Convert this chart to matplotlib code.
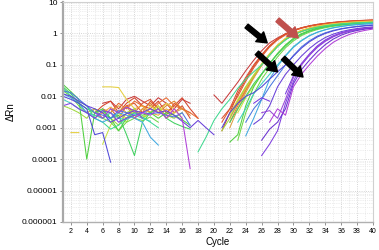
import numpy as np
import matplotlib
matplotlib.use("Agg")
import matplotlib.pyplot as plt
from matplotlib.ticker import FixedLocator, NullFormatter

n = None
cycles = list(range(1, 41))

# delta Rn per well, cycles 1..40 (None = not drawn, value <= 0)
well_01 = [n, n, n, n, n, .006, .007, .004, .008, .01, .007, .005, .009, .006, .004, .008, .006, n, n, .011,
           .006, .013, .028, .065, .14, .28, .5, .72, .98, 1.25, 1.5, 1.72, 1.9, 2.05, 2.2, 2.3, 2.4, 2.5, 2.55, 2.6]
well_02 = [n, n, n, n, .003, .005, .007, .003, .006, .009, .005, .004, .007, .003, .005, .009, .004, .002, n, n,
           .0008, .003, .012, .035, .09, .2, .4, .66, .95, 1.25, 1.52, 1.75, 1.95, 2.1, 2.25, 2.38, 2.48, 2.56, 2.62, 2.68]
well_03 = [n, n, n, n, n, n, .004, .002, .005, .006, .003, .007, .004, .0025, .006, .004, .003, n, n, n,
           .0015, .004, .01, .03, .08, .18, .37, .62, .9, 1.2, 1.45, 1.68, 1.88, 2.05, 2.2, 2.32, 2.42, 2.5, 2.57, 2.62]
well_04 = [n, n, n, n, n, .004, .003, .006, .004, .007, .005, .003, .006, .009, .005, .004, .003, .002, n, n,
           n, .002, .006, .016, .04, .1, .21, .4, .65, .93, 1.2, 1.45, 1.68, 1.88, 2.02, 2.15, 2.25, 2.35, 2.42, 2.48]
well_05 = [n, n, n, n, n, n, n, .003, .005, .002, .004, .006, .003, .005, .007, .004, .0025, n, n, n,
           n, .0015, .005, .015, .042, .1, .22, .42, .68, .96, 1.22, 1.46, 1.66, 1.83, 1.98, 2.1, 2.2, 2.28, 2.35, 2.4]
well_06 = [n, n, n, .003, .004, .002, .003, .005, .003, .002, .004, .003, .005, .002, .003, .004, n, n, n, n,
           n, .001, .004, .013, .038, .095, .2, .39, .64, .9, 1.15, 1.38, 1.58, 1.75, 1.9, 2.02, 2.12, 2.2, 2.27, 2.32]
well_07 = [n, .0007, .0007, n, n, .02, .02, .019, .008, .004, .002, .005, .003, .006, .004, .002, n, n, n, n,
           n, .0025, .008, .02, .048, .11, .23, .43, .7, .98, 1.25, 1.5, 1.7, 1.88, 2.02, 2.15, 2.25, 2.33, 2.4, 2.45]
well_08 = [n, n, n, n, n, .0003, .0012, .003, .0015, .004, .002, .003, .005, .002, .003, n, n, n, n, n,
           n, n, .003, .009, .022, .05, .11, .23, .42, .68, .95, 1.2, 1.42, 1.62, 1.78, 1.92, 2.03, 2.12, 2.2, 2.26]
well_09 = [.005, .004, .003, .002, .004, .003, .002, .0012, .003, .004, .002, .003, .004, .0025, .002, .003, n, n, n, n,
           .0008, .002, .007, .02, .045, .1, .21, .4, .64, .9, 1.15, 1.36, 1.55, 1.7, 1.83, 1.95, 2.04, 2.12, 2.18, 2.22]
well_10 = [.024, .014, .008, .0001, .003, .004, .002, .0008, .002, .003, .0025, .003, .002, .003, .0025, .0018, .0012, n, n, n,
           n, .00035, .0006, .005, .02, .05, .11, .23, .43, .7, .98, 1.24, 1.47, 1.66, 1.82, 1.95, 2.05, 2.13, 2.2, 2.25]
well_11 = [.02, .012, .006, .004, .003, .0035, .002, .0025, .0006, .00013, .0015, .003, .004, .002, .0014, .0011, .0009, n, n, n,
           n, .0015, .004, .01, .025, .052, .11, .22, .4, .65, .92, 1.18, 1.4, 1.6, 1.76, 1.9, 2.0, 2.08, 2.15, 2.2]
well_12 = [.018, .01, .007, .005, .002, .0015, .0009, .0012, .002, .003, .0022, .0015, .001, n, n, n, n, .00017, .0005, .0017,
           .004, .008, .018, .035, .06, .1, .2, .38, .62, .9, 1.15, 1.38, 1.58, 1.75, 1.9, 2.02, 2.1, 2.18, 2.23, 2.28]
well_13 = [.008, .006, .004, .003, .0025, .002, .003, .002, .0018, .0025, .002, .0016, n, n, n, n, n, n, n, n,
           n, n, .0015, .004, .012, .025, .05, .1, .2, .38, .6, .85, 1.1, 1.32, 1.52, 1.68, 1.82, 1.93, 2.02, 2.1]
well_14 = [.012, .009, .006, .003, .002, .0015, .002, .003, .0025, .002, .0015, .0005, .00028, n, n, n, n, n, n, n,
           n, n, n, .00055, .002, .008, .035, .09, .19, .36, .58, .84, 1.08, 1.3, 1.5, 1.66, 1.8, 1.9, 1.98, 2.05]
well_15 = [.015, .013, .008, .005, .003, .0025, .002, .0035, .003, .0025, .003, .0028, .003, .0025, .0022, .003, .0012, n, n, n,
           n, n, n, .0015, .004, .008, .02, .045, .1, .2, .37, .58, .82, 1.05, 1.25, 1.42, 1.56, 1.68, 1.78, 1.86]
well_16 = [.01, .008, .006, .004, .0006, .0007, .00008, n, n, n, n, n, n, n, n, n, n, n, n, n,
           .001, .003, .006, .01, .013, .02, .035, .06, .1, .19, .34, .54, .77, 1.0, 1.2, 1.38, 1.52, 1.64, 1.74, 1.82]
well_17 = [.012, .01, .007, .005, .004, .003, .0015, .002, .0028, .0035, .003, .004, .003, .0035, .0025, .0016, .001, .0017, .001, .0006,
           n, n, n, n, .0013, .002, .005, .02, .05, .1, .19, .33, .52, .74, .95, 1.14, 1.3, 1.43, 1.54, 1.62]
well_18 = [.005, .006, .004, .003, .002, .0035, .003, .0015, .002, .0025, n, n, n, n, n, n, n, n, n, n,
           n, n, n, n, n, .00013, .0003, .0008, .006, .03, .1, .2, .36, .56, .78, 1.0, 1.18, 1.32, 1.44, 1.52]
well_19 = [n, n, n, n, .003, .002, .004, .003, .0045, .0035, .002, n, n, n, n, n, n, n, n, n,
           n, n, n, n, n, .003, .0035, .002, .008, .04, .1, .21, .38, .58, .8, 1.0, 1.18, 1.33, 1.45, 1.55]
well_20 = [n, n, n, n, n, n, n, n, n, .002, .003, .0025, .004, .002, .004, .002, .00005, n, n, n,
           n, n, n, n, n, n, .0015, .004, .0025, .02, .05, .1, .19, .33, .52, .72, .92, 1.1, 1.25, 1.38]
well_21 = [n, n, n, n, n, n, n, n, n, n, n, n, n, n, n, n, n, n, n, n,
           n, n, n, n, n, .0004, .0009, .0015, .004, .025, .07, .14, .26, .44, .66, .88, 1.08, 1.24, 1.37, 1.47]
well_22 = [n, n, n, n, n, n, n, n, n, n, n, n, n, n, n, n, n, n, n, n,
           n, n, n, n, .006, .009, .007, n, .012, .045, .11, .22, .4, .62, .84, 1.05, 1.22, 1.36, 1.47, 1.56]
well_23 = [n, n, n, n, n, n, n, n, .005, .003, .006, .008, .004, .006, .003, .005, .002, n, n, n,
           .002, .004, .015, .04, .1, .21, .41, .67, .96, 1.24, 1.5, 1.72, 1.92, 2.08, 2.22, 2.34, 2.44, 2.52, 2.6, 2.66]
well_24 = [n, n, n, n, .002, .003, .0045, .003, .002, .004, .005, .003, .0025, .004, .003, n, n, n, n, n,
           n, .003, .007, .018, .045, .1, .21, .4, .66, .94, 1.22, 1.46, 1.68, 1.86, 2.0, 2.14, 2.25, 2.34, 2.42, 2.48]
well_25 = [.015, .01, .005, .003, .0025, .002, .0015, .0008, .0015, .002, .0017, .0022, .0015, n, n, n, n, n, n, n,
           n, n, .0004, .003, .012, .035, .08, .18, .35, .58, .85, 1.1, 1.33, 1.52, 1.68, 1.82, 1.93, 2.02, 2.1, 2.16]

wells = [well_01, well_02, well_23, well_03, well_04, well_05, well_24, well_06, well_07, well_08,
         well_09, well_25, well_10, well_11, well_12, well_13, well_14, well_15, well_16, well_17,
         well_18, well_22, well_19, well_21, well_20]
colors = ["#c83c3c", "#d4442c", "#d85030", "#e0582a", "#e86a32", "#e2862e", "#f0a838", "#dca040",
          "#e6d040", "#c8e040", "#a0d840", "#70d848", "#50d040", "#40d060", "#40d890", "#40d0c0",
          "#40a8e0", "#4878e0", "#5048d8", "#6840d8", "#8040e0", "#7838e0", "#9848d8", "#6a30d0", "#b040d8"]

# arrows: (tail x, tail y, tip x, tip y, colour)
arrows = [(24.1, 1.72, 26.7, 0.5, "black"),
          (25.4, 0.24, 28.0, 0.06, "black"),
          (28.7, 0.165, 31.2, 0.041, "black"),
          (28.0, 2.7, 30.6, 0.72, "#c0504d")]

fig = plt.figure(figsize=(3.79, 2.5), dpi=100)
ax = fig.add_axes([0.166, 0.112, 0.818, 0.88])

for w, c in zip(wells, colors):
    ax.plot(cycles, np.array(w, dtype=float), color=c, lw=0.75)

for x0, y0, x1, y1, c in arrows:
    ax.annotate("", xy=(x1, y1), xytext=(x0, y0),
                arrowprops=dict(arrowstyle="simple,head_length=0.7,head_width=0.9,tail_width=0.35",
                                fc=c, ec=c, mutation_scale=10, shrinkA=0, shrinkB=0))

ax.set_yscale("log")
ax.set_ylim(1e-6, 10)
ax.set_xlim(1, 40)
ax.set_yticks([1e-6, 1e-5, 1e-4, 1e-3, 1e-2, 0.1, 1, 10])
ax.set_yticklabels(["0.000001", "0.00001", "0.0001", "0.001", "0.01", "0.1", "1", "10"],
                   fontsize=6, family="Liberation Sans")
ax.yaxis.set_minor_formatter(NullFormatter())
ax.set_xticks(range(2, 41, 2))
ax.set_xticklabels([str(v) for v in range(2, 41, 2)], fontsize=5, family="Liberation Sans")
ax.xaxis.set_minor_locator(FixedLocator(range(1, 41)))

ax.grid(True, which="major", color="#c8c8c8", ls=":", lw=0.6)
ax.grid(True, which="minor", color="#dcdcdc", ls=":", lw=0.5)
ax.tick_params(which="major", length=2, width=0.6, color="#808080", pad=2)
ax.tick_params(which="minor", length=0)

for s in ["top", "right"]:
    ax.spines[s].set_color("#d0d0d0")
    ax.spines[s].set_linewidth(0.8)
ax.spines["left"].set_color("#a8a8a8")
ax.spines["left"].set_linewidth(1.6)
ax.spines["bottom"].set_color("#b0b0b0")
ax.spines["bottom"].set_linewidth(1.0)

ax.set_xlabel("Cycle", fontsize=7, family="Liberation Sans", labelpad=2)
ax.set_ylabel("ΔRn", fontsize=7, family="Liberation Sans", labelpad=4)

fig.savefig("out.png", dpi=100)
